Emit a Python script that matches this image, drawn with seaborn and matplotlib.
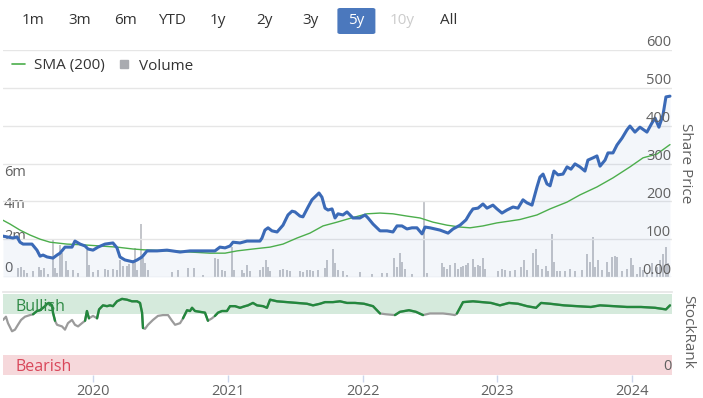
import numpy as np
import pandas as pd
import matplotlib
matplotlib.use("Agg")
import matplotlib.pyplot as plt
import matplotlib.dates as mdates
from matplotlib.lines import Line2D
from matplotlib.patches import FancyBboxPatch
import seaborn as sns

# ---- data (time as fractional years) ----
price_years = [
    2019.332, 2019.406, 2019.436, 2019.458, 2019.481, 2019.547, 2019.584, 2019.607, 2019.629, 2019.659,
    2019.703, 2019.733, 2019.755, 2019.792, 2019.844, 2019.866, 2019.904, 2019.941, 2019.963, 2020.000,
    2020.037, 2020.089, 2020.148, 2020.178, 2020.200, 2020.237, 2020.297, 2020.327, 2020.364, 2020.401,
    2020.475, 2020.549, 2020.646, 2020.720, 2020.816, 2020.905, 2020.942, 2020.980, 2021.017, 2021.039,
    2021.091, 2021.143, 2021.239, 2021.254, 2021.276, 2021.299, 2021.328, 2021.366, 2021.410, 2021.447,
    2021.477, 2021.499, 2021.536, 2021.558, 2021.596, 2021.625, 2021.662, 2021.677, 2021.699, 2021.722,
    2021.744, 2021.774, 2021.796, 2021.818, 2021.855, 2021.885, 2021.907, 2021.929, 2021.981, 2022.019,
    2022.041, 2022.078, 2022.130, 2022.182, 2022.226, 2022.256, 2022.293, 2022.330, 2022.367, 2022.404,
    2022.442, 2022.464, 2022.501, 2022.575, 2022.635, 2022.672, 2022.724, 2022.768, 2022.798, 2022.820,
    2022.857, 2022.894, 2022.924, 2022.968, 2022.998, 2023.035, 2023.072, 2023.117, 2023.154, 2023.191,
    2023.221, 2023.258, 2023.295, 2023.317, 2023.340, 2023.369, 2023.392, 2023.421, 2023.451, 2023.488,
    2023.518, 2023.547, 2023.577, 2023.614, 2023.651, 2023.673, 2023.711, 2023.740, 2023.763, 2023.800,
    2023.822, 2023.859, 2023.889, 2023.926, 2023.963, 2023.985, 2024.022, 2024.059, 2024.111, 2024.148,
    2024.171, 2024.200, 2024.230, 2024.252, 2024.282,
]
price = [
    108, 103, 106, 92, 87, 87, 71, 55, 58, 53,
    50, 58, 63, 79, 79, 95, 87, 82, 74, 71,
    79, 87, 90, 77, 53, 45, 40, 45, 53, 69,
    69, 71, 66, 69, 69, 69, 79, 77, 82, 92,
    90, 95, 95, 103, 124, 130, 122, 119, 137, 164,
    174, 172, 161, 159, 185, 204, 217, 222, 211, 182,
    177, 180, 156, 167, 164, 172, 164, 156, 156, 164,
    156, 140, 122, 122, 119, 135, 135, 127, 130, 130,
    114, 132, 130, 124, 116, 127, 137, 151, 169, 180,
    182, 193, 182, 190, 180, 169, 177, 185, 182, 204,
    196, 190, 238, 264, 272, 246, 241, 280, 270, 272,
    291, 285, 299, 291, 280, 309, 315, 320, 293, 309,
    328, 328, 349, 367, 389, 399, 383, 396, 383, 407,
    420, 396, 428, 476, 478,
]

sma_years = [
    2019.332, 2019.384, 2019.458, 2019.532, 2019.607, 2019.681, 2019.807, 2019.926, 2020.052, 2020.178,
    2020.297, 2020.371, 2020.497, 2020.646, 2020.720, 2020.868, 2020.980, 2021.069, 2021.187, 2021.314,
    2021.410, 2021.514, 2021.610, 2021.707, 2021.811, 2021.907, 2022.033, 2022.130, 2022.226, 2022.330,
    2022.427, 2022.523, 2022.627, 2022.724, 2022.798, 2022.894, 2022.998, 2023.095, 2023.169, 2023.295,
    2023.392, 2023.518, 2023.614, 2023.740, 2023.859, 2023.985, 2024.082, 2024.185, 2024.282,
]
sma = [
    150, 140, 124, 111, 100, 92, 87, 85, 82, 79,
    74, 72, 70, 68, 66, 63, 63, 69, 74, 79,
    87, 103, 116, 135, 145, 155, 167, 169, 167, 161,
    156, 145, 137, 132, 130, 135, 143, 148, 152, 164,
    180, 198, 217, 238, 262, 291, 315, 325, 350,
]

vol_years = [
    2019.443, 2019.466, 2019.488, 2019.510, 2019.555, 2019.599, 2019.614, 2019.636, 2019.666, 2019.703,
    2019.718, 2019.733, 2019.755, 2019.770, 2019.800, 2019.814, 2019.852, 2019.889, 2019.955, 2019.970,
    2020.000, 2020.037, 2020.089, 2020.111, 2020.148, 2020.178, 2020.200, 2020.223, 2020.252, 2020.267,
    2020.297, 2020.312, 2020.327, 2020.356, 2020.371, 2020.386, 2020.408, 2020.586, 2020.631, 2020.705,
    2020.750, 2020.816, 2020.905, 2020.928, 2020.957, 2020.980, 2021.032, 2021.046, 2021.106, 2021.121,
    2021.143, 2021.165, 2021.239, 2021.262, 2021.284, 2021.299, 2021.314, 2021.388, 2021.410, 2021.440,
    2021.462, 2021.536, 2021.558, 2021.588, 2021.610, 2021.633, 2021.670, 2021.722, 2021.737, 2021.781,
    2021.796, 2021.818, 2021.855, 2021.885, 2021.981, 2022.070, 2022.145, 2022.182, 2022.234, 2022.256,
    2022.278, 2022.293, 2022.315, 2022.367, 2022.456, 2022.479, 2022.590, 2022.605, 2022.627, 2022.649,
    2022.686, 2022.709, 2022.731, 2022.746, 2022.768, 2022.783, 2022.820, 2022.835, 2022.857, 2022.872,
    2022.894, 2022.909, 2023.006, 2023.035, 2023.057, 2023.095, 2023.132, 2023.176, 2023.198, 2023.221,
    2023.265, 2023.288, 2023.302, 2023.332, 2023.362, 2023.377, 2023.406, 2023.421, 2023.443, 2023.466,
    2023.503, 2023.540, 2023.577, 2023.629, 2023.666, 2023.688, 2023.711, 2023.725, 2023.748, 2023.777,
    2023.814, 2023.829, 2023.852, 2023.874, 2023.889, 2023.926, 2023.963, 2023.993, 2024.007, 2024.037,
    2024.059, 2024.082, 2024.111, 2024.148, 2024.185, 2024.208, 2024.230, 2024.252, 2024.267,
]
volume_m = [
    0.57, 0.64, 0.44, 0.23, 0.35, 0.64, 0.46, 0.58, 0.17, 2.37,
    0.58, 0.23, 2.00, 1.50, 1.00, 0.46, 0.46, 0.23, 1.69, 0.75,
    0.29, 0.46, 0.52, 0.46, 0.52, 0.46, 1.06, 0.69, 0.69, 0.81,
    1.04, 1.81, 0.46, 3.31, 1.16, 0.87, 0.46, 0.29, 0.46, 0.58,
    0.58, 0.12, 1.16, 1.10, 0.46, 0.35, 1.87, 0.46, 0.46, 0.23,
    0.75, 0.35, 0.46, 0.64, 1.04, 0.64, 0.35, 0.46, 0.52, 0.46,
    0.35, 0.40, 0.29, 0.46, 0.46, 0.35, 0.46, 0.58, 1.04, 1.73,
    0.87, 0.46, 0.35, 0.12, 0.29, 0.17, 0.23, 0.23, 1.16, 0.64,
    1.50, 0.92, 0.52, 0.17, 4.74, 0.23, 0.87, 0.64, 0.52, 0.75,
    0.87, 0.52, 0.64, 0.69, 0.75, 0.87, 1.10, 0.64, 0.75, 0.69,
    1.16, 0.52, 0.40, 0.52, 0.44, 0.35, 0.44, 0.64, 1.06, 0.44,
    1.50, 1.73, 0.75, 0.52, 0.69, 0.35, 2.66, 0.92, 0.40, 0.35,
    0.35, 0.52, 0.35, 0.44, 1.45, 0.92, 2.50, 0.64, 1.06, 0.44,
    0.92, 0.29, 1.27, 1.33, 1.27, 0.35, 0.52, 1.16, 0.75, 0.17,
    0.64, 0.44, 0.23, 0.87, 0.64, 1.04, 1.45, 1.85, 0.87,
]

rank_years = [
    2019.332, 2019.354, 2019.369, 2019.399, 2019.421, 2019.443, 2019.466, 2019.495, 2019.532, 2019.555,
    2019.584, 2019.607, 2019.644, 2019.659, 2019.673, 2019.696, 2019.703, 2019.718, 2019.733, 2019.770,
    2019.792, 2019.814, 2019.844, 2019.866, 2019.889, 2019.918, 2019.941, 2019.955, 2019.970, 2020.000,
    2020.030, 2020.045, 2020.074, 2020.104, 2020.126, 2020.148, 2020.178, 2020.215, 2020.252, 2020.289,
    2020.327, 2020.349, 2020.364, 2020.371, 2020.386, 2020.408, 2020.445, 2020.482, 2020.519, 2020.557,
    2020.586, 2020.609, 2020.646, 2020.668, 2020.698, 2020.720, 2020.735, 2020.757, 2020.794, 2020.831,
    2020.853, 2020.883, 2020.905, 2020.928, 2020.957, 2020.994, 2021.017, 2021.054, 2021.091, 2021.128,
    2021.150, 2021.187, 2021.217, 2021.262, 2021.291, 2021.314, 2021.366, 2021.440, 2021.514, 2021.588,
    2021.633, 2021.685, 2021.722, 2021.781, 2021.833, 2021.885, 2021.944, 2022.011, 2022.078, 2022.130,
    2022.174, 2022.241, 2022.278, 2022.345, 2022.397, 2022.449, 2022.501, 2022.545, 2022.597, 2022.649,
    2022.686, 2022.701, 2022.746, 2022.820, 2022.887, 2022.954, 2023.020, 2023.087, 2023.154, 2023.221,
    2023.288, 2023.325, 2023.392, 2023.495, 2023.592, 2023.695, 2023.763, 2023.866, 2023.963, 2024.067,
    2024.171, 2024.252, 2024.282,
]
stock_rank = [
    68, 72, 64, 54, 56, 62, 68, 72, 74, 75,
    79, 80, 85, 88, 89, 86, 77, 67, 62, 60,
    56, 64, 68, 62, 60, 64, 67, 79, 70, 73,
    70, 81, 86, 85, 86, 85, 91, 94, 93, 91,
    91, 89, 77, 58, 57, 62, 68, 73, 74, 74,
    67, 62, 64, 70, 80, 79, 83, 79, 78, 77,
    67, 70, 73, 77, 79, 79, 85, 85, 83, 85,
    86, 89, 86, 85, 83, 93, 91, 90, 89, 88,
    86, 88, 90, 90, 91, 89, 89, 88, 85, 76,
    75, 74, 78, 80, 78, 74, 76, 76, 76, 75,
    74, 76, 90, 91, 90, 89, 86, 89, 88, 85,
    83, 89, 88, 86, 85, 84, 86, 85, 84, 84,
    83, 81, 86,
]
bullish_from = 77

price_ticks = [0, 100, 200, 300, 400, 500, 600]
price_tick_labels = ["0.00", "100", "200", "300", "400", "500", "600"]
vol_ticks = [0, 2e6, 4e6, 6e6]
vol_tick_labels = ["0", "2m", "4m", "6m"]
ranges = ["1m", "3m", "6m", "YTD", "1y", "2y", "3y", "5y", "10y", "All"]
active_range = "5y"
disabled_range = "10y"


def to_dates(years):
    years = np.asarray(years, dtype=float)
    return pd.Timestamp("2020-01-01") + pd.to_timedelta((years - 2020) * 365.25, unit="D")


sns.set_theme(style="white")
plt.rcParams["font.family"] = ["Open Sans", "DejaVu Sans"]

W, H = 703, 398
fig = plt.figure(figsize=(W / 100, H / 100), dpi=100)

BLUE = "#3b6ab7"
SMA_GREEN = "#4cae4c"
VOL_GRAY = "#c4c6cb"
GRID = "#e6e6e6"
LABEL = "#606060"


def fbox(left, top, right, bottom):
    return [left / W, 1 - bottom / H, (right - left) / W, (bottom - top) / H]


# ---- main panel: volume behind, price in front ----
ax_vol = fig.add_axes(fbox(3, 50, 672, 277))
ax = ax_vol.twinx()
ax.set_zorder(ax_vol.get_zorder() + 1)
ax.patch.set_visible(False)

xlim = to_dates([2019.332, 2024.297])

ax_vol.bar(to_dates(vol_years), np.array(volume_m) * 1e6, width=4.5, color=VOL_GRAY, linewidth=0)
ax_vol.set_ylim(0, 14.2e6)

pdates = to_dates(price_years)
ax.fill_between(pdates, price, 0, color=BLUE, alpha=0.06, linewidth=0)
for v in price_ticks:
    ax.axhline(v, color=GRID, lw=1, zorder=0)
sns.lineplot(x=to_dates(sma_years), y=sma, ax=ax, color=SMA_GREEN, lw=1.0)
sns.lineplot(x=pdates, y=price, ax=ax, color=BLUE, lw=2.2)
ax.set_ylim(0, 600)
ax.set_xlim(xlim)

for a in (ax, ax_vol):
    a.set_xticks([])
    a.set_yticks([])
    a.set_xlabel("")
    a.set_ylabel("")
    for s in a.spines.values():
        s.set_visible(False)

for v, lab in zip(price_ticks, price_tick_labels):
    ax.annotate(lab, xy=(1, v), xycoords=("axes fraction", "data"), xytext=(-1, 7),
                textcoords="offset pixels", ha="right", va="center", fontsize=10.5, color=LABEL)
for v, lab in zip(vol_ticks, vol_tick_labels):
    ax_vol.annotate(lab, xy=(0, v), xycoords=("axes fraction", "data"), xytext=(1, 9),
                    textcoords="offset pixels", ha="left", va="center", fontsize=10.5, color=LABEL)

fig.text(686 / W, 1 - 163 / H, "Share Price", rotation=-90, ha="center", va="center",
         fontsize=11, color=LABEL)

handles = [Line2D([], [], color=SMA_GREEN, lw=1.2),
           Line2D([], [], marker="s", ls="", color="#a9abb0", markersize=5.5)]
ax.legend(handles, ["SMA (200)", "Volume"], loc="center left", bbox_to_anchor=(12 / W, 1 - 66 / H),
          bbox_transform=fig.transFigure, frameon=False, ncol=2, handlelength=0.85,
          handletextpad=0.6, columnspacing=0.8, fontsize=11, borderaxespad=0, borderpad=0,
          labelcolor="#333333")

# ---- StockRank panel ----
ax_rank = fig.add_axes(fbox(3, 292, 672, 375))
ax_rank.axhspan(75, 100, color="#d5eadc", lw=0)
ax_rank.axhspan(0, 25, color="#f6d8db", lw=0)

rank_df = pd.DataFrame({"date": to_dates(rank_years), "rank": stock_rank})
above = rank_df["rank"] >= bullish_from
# runs of bullish points, each run extended by one point on both sides
run_id = (above != above.shift()).cumsum()
green_parts = []
for rid in run_id[above].unique():
    idx = run_id.index[run_id == rid]
    lo, hi = max(idx.min() - 1, 0), min(idx.max() + 1, len(rank_df) - 1)
    part = rank_df.iloc[lo:hi + 1].copy()
    part["seg"] = rid
    green_parts.append(part)
green_df = pd.concat(green_parts)

sns.lineplot(data=rank_df, x="date", y="rank", ax=ax_rank, color="#9b9b9b", lw=1.6)
sns.lineplot(data=green_df, x="date", y="rank", units="seg", estimator=None, ax=ax_rank,
             color="#23883d", lw=1.7)
ax_rank.set_ylim(0, 102.5)
ax_rank.set_xlim(xlim)
ax_rank.set_yticks([])
ax_rank.set_ylabel("")
ax_rank.set_xlabel("")
for side, s in ax_rank.spines.items():
    s.set_visible(side == "top")
ax_rank.spines["top"].set_color(GRID)
ax_rank.xaxis.set_major_locator(mdates.YearLocator())
ax_rank.xaxis.set_major_formatter(mdates.DateFormatter("%Y"))
ax_rank.tick_params(axis="x", bottom=True, length=5, width=1, color="#ccd6eb",
                    labelcolor=LABEL, labelsize=10.5, pad=1.5)

ax_rank.text(0.018, 84, "Bullish", transform=ax_rank.get_yaxis_transform(), ha="left", va="center",
             fontsize=11.5, color="#2f8a45")
ax_rank.text(0.018, 10, "Bearish", transform=ax_rank.get_yaxis_transform(), ha="left", va="center",
             fontsize=11.5, color="#d9475a")
ax_rank.text(1.0, 10, "0", transform=ax_rank.get_yaxis_transform(), ha="right", va="center",
             fontsize=10.5, color=LABEL)
fig.text(688 / W, 1 - 332 / H, "StockRank", rotation=-90, ha="center", va="center",
         fontsize=11, color=LABEL)

# ---- range selector buttons ----
for i, lab in enumerate(ranges):
    cx = 33 + i * 46.2
    color = "#333333"
    if lab == active_range:
        fig.patches.append(FancyBboxPatch(((cx - 19) / W, 1 - 34 / H), 38 / W, 26 / H,
                                          boxstyle="round,pad=0,rounding_size=0.004",
                                          transform=fig.transFigure, color="#4b78bd", lw=0))
        color = "white"
    elif lab == disabled_range:
        color = "#cccccc"
    fig.text(cx / W, 1 - 21 / H, lab, ha="center", va="center", fontsize=11, color=color)

fig.savefig("out.png", dpi=100)
